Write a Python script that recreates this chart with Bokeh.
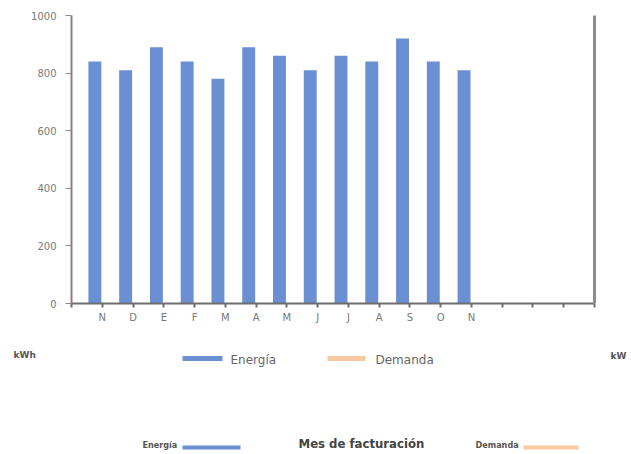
from bokeh.plotting import figure
from bokeh.models import Range1d, FixedTicker, LinearAxis
from bokeh.layouts import column
from bokeh.embed import file_html
from bokeh.resources import INLINE
from bokeh.core.properties import value

# ---- data ----
months = ["N", "D", "E", "F", "M", "A", "M", "J", "J", "A", "S", "O", "N"]
energia = [840, 810, 890, 840, 780, 890, 860, 810, 860, 840, 920, 840, 810]
demanda = []  # no values drawn in the reference
y_ticks = [0, 200, 400, 600, 800, 1000]
n_slots = 17
y_max = 1000

BLUE = "#6b8fd3"
ORANGE = "#f8c9a0"
AXFONT = "DejaVu Sans"
FONT = value("DejaVu Sans")
NARROW = value("'Liberation Sans Narrow', 'DejaVu Sans Condensed', 'Roboto Condensed', Roboto")

W = 631
H_MAIN, H_LEG = 330, 122

p = figure(width=W, height=H_MAIN,
           min_border_left=71, min_border_right=37, min_border_top=15, min_border_bottom=27,
           x_range=Range1d(0, n_slots), y_range=Range1d(0, y_max),
           output_backend="svg", toolbar_location=None)
p.frame_align = False
p.outline_line_color = None
p.grid.visible = False
p.background_fill_color = "white"

xs = [i + 0.76 for i in range(len(energia))]
p.vbar(x=xs, top=energia, bottom=0, width=0.42, fill_color=BLUE, line_color=None)

# x axis
xa = p.xaxis[0]
xa.ticker = FixedTicker(ticks=list(range(n_slots + 1)))
overrides = {k: "" for k in range(n_slots + 1)}
for i, m in enumerate(months):
    overrides[i + 1] = m
xa.major_label_overrides = overrides
xa.axis_line_color = "#6e6e6e"
xa.axis_line_width = 2
xa.major_tick_line_color = "#6e6e6e"
xa.major_tick_line_width = 2
xa.major_tick_in = 0
xa.major_tick_out = 4
xa.minor_tick_line_color = None
xa.major_label_text_font = AXFONT
xa.major_label_text_font_size = "10px"
xa.major_label_text_color = "#777777"
xa.major_label_standoff = 4

# y axis
ya = p.yaxis[0]
ya.ticker = FixedTicker(ticks=y_ticks)
ya.axis_line_color = "#8a7f84"
ya.axis_line_width = 2
ya.major_tick_line_color = "#8a8a8a"
ya.major_tick_in = 0
ya.major_tick_out = 6
ya.minor_tick_line_color = None
ya.major_label_text_font = AXFONT
ya.major_label_text_font_size = "10px"
ya.major_label_text_color = "#7a7a7a"
ya.major_label_standoff = 9

# right (Demanda) axis
rax = LinearAxis(ticker=FixedTicker(ticks=[]), axis_line_color="#8c8c8c", axis_line_width=3,
                 major_label_text_font_size="0px", major_tick_line_color=None,
                 minor_tick_line_color=None)
p.add_layout(rax, "right")

# ---- legend / titles area (page-pixel coordinates) ----
q = figure(width=W, height=H_LEG, min_border=0,
           x_range=Range1d(0, W), y_range=Range1d(H_MAIN + H_LEG, H_MAIN),
           x_axis_location=None, y_axis_location=None,
           output_backend="svg", toolbar_location=None)
q.frame_align = False
q.outline_line_color = None
q.grid.visible = False

q.text(x=[13], y=[354], text=["kWh"], text_font=FONT, text_font_size="9px",
       text_font_style="bold", text_color="#555555", text_baseline="middle")
q.text(x=[610], y=[355], text=["kW"], text_font=FONT, text_font_size="9px",
       text_font_style="bold", text_color="#555555", text_baseline="middle")

q.segment(x0=[182], y0=[358], x1=[222], y1=[358], line_color=BLUE, line_width=5)
q.text(x=[230], y=[359], text=["Energía"], text_font=FONT, text_font_size="12px",
       text_color="#666666", text_baseline="middle")
q.segment(x0=[327], y0=[358], x1=[365], y1=[358], line_color=ORANGE, line_width=5)
q.text(x=[375], y=[359], text=["Demanda"], text_font=FONT, text_font_size="12px",
       text_color="#666666", text_baseline="middle")

q.text(x=[142], y=[444], text=["Energía"], text_font=NARROW, text_font_size="9px",
       text_font_style="bold", text_color="#555555", text_baseline="middle")
q.segment(x0=[182], y0=[447], x1=[240], y1=[447], line_color=BLUE, line_width=4)
q.text(x=[298], y=[443], text=["Mes de facturación"], text_font=NARROW, text_font_size="13px",
       text_font_style="bold", text_color="#444444", text_baseline="middle")
q.text(x=[475], y=[444], text=["Demanda"], text_font=NARROW, text_font_size="9px",
       text_font_style="bold", text_color="#555555", text_baseline="middle")
q.segment(x0=[523], y0=[447], x1=[578], y1=[447], line_color=ORANGE, line_width=4)

layout = column(p, q, spacing=0)
open("out.html", "w").write(file_html(layout, INLINE))
